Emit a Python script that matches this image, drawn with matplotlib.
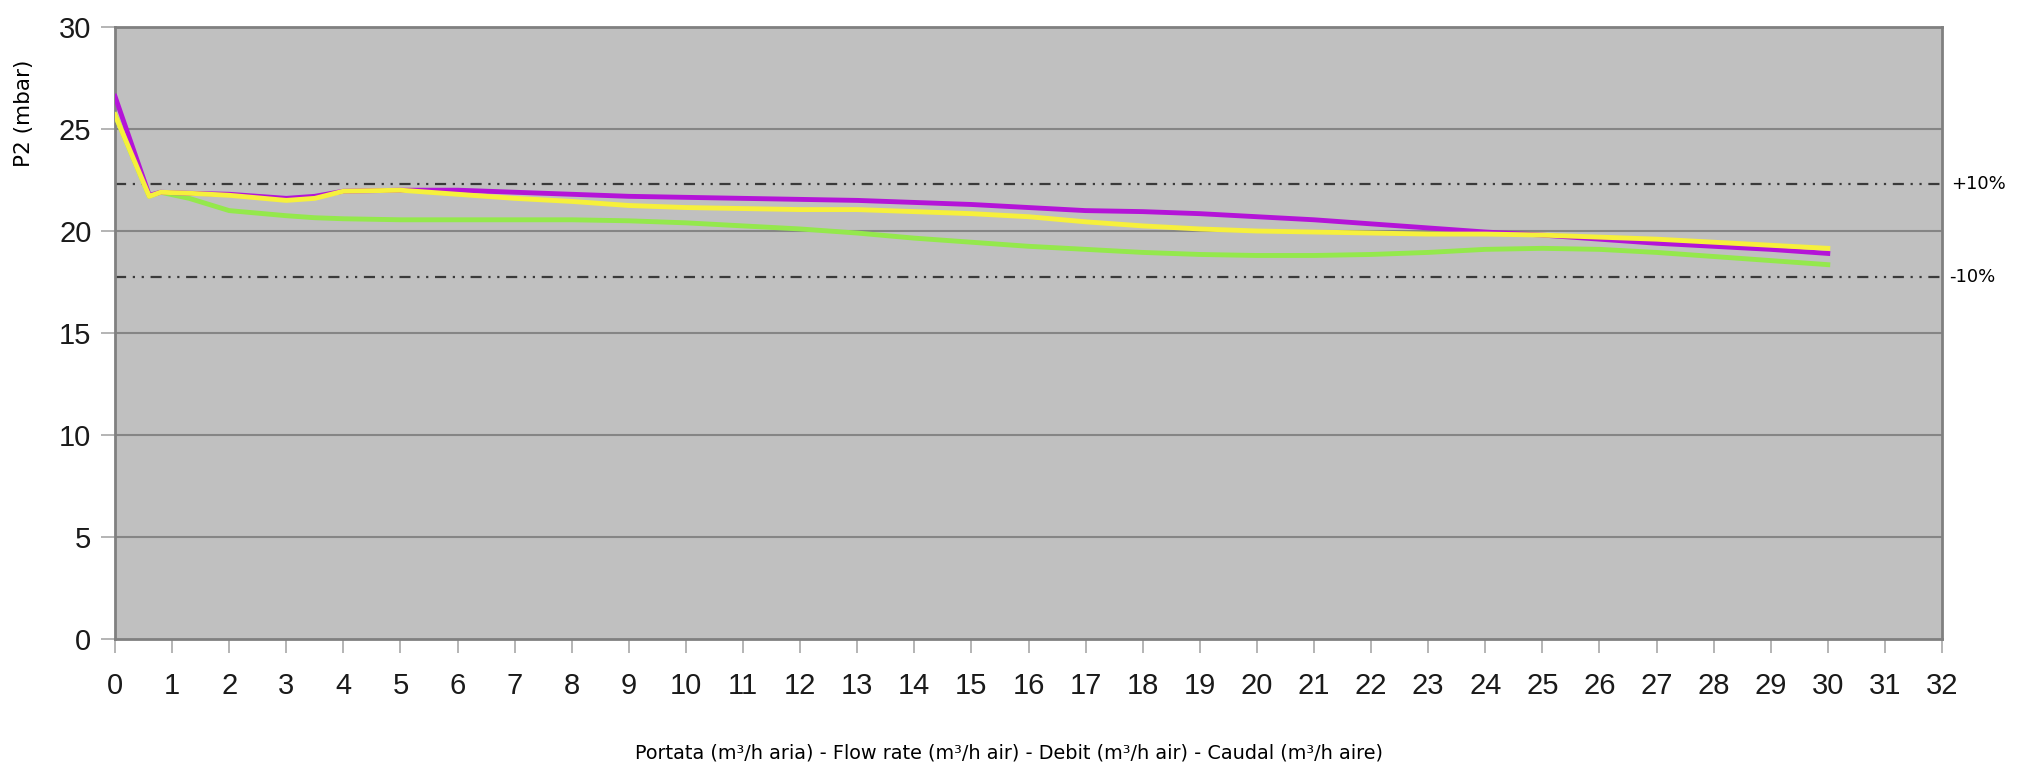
import matplotlib
matplotlib.use("Agg")
import matplotlib.pyplot as plt

# flow rate (m3/h air)
flow = [0, 0.6, 0.8, 1.3, 2, 3, 3.5, 4, 5, 6, 7, 8, 9, 10, 11, 12, 13, 14, 15,
        16, 17, 18, 19, 20, 21, 22, 23, 24, 25, 26, 27, 28, 29, 30]

p2_magenta = [26.6, 21.75, 21.9, 21.85, 21.8, 21.6, 21.7, 21.95, 22.0, 22.0, 21.9,
              21.8, 21.7, 21.65, 21.6, 21.55, 21.5, 21.4, 21.3, 21.15, 21.0, 20.95,
              20.85, 20.7, 20.55, 20.35, 20.15, 19.95, 19.8, 19.6, 19.4, 19.25, 19.1, 18.9]
p2_yellow = [25.7, 21.7, 21.9, 21.85, 21.75, 21.5, 21.6, 21.95, 22.0, 21.8, 21.6,
             21.45, 21.25, 21.15, 21.1, 21.05, 21.05, 20.95, 20.85, 20.7, 20.45, 20.25,
             20.1, 20.0, 19.95, 19.9, 19.85, 19.85, 19.8, 19.7, 19.6, 19.45, 19.3, 19.15]
p2_green = [25.7, 21.7, 21.9, 21.6, 21.0, 20.75, 20.65, 20.6, 20.55, 20.55, 20.55,
            20.55, 20.5, 20.4, 20.25, 20.1, 19.9, 19.65, 19.45, 19.25, 19.1, 18.95,
            18.85, 18.8, 18.8, 18.85, 18.95, 19.1, 19.15, 19.1, 18.95, 18.75, 18.55, 18.35]

band_upper = 22.3
band_lower = 17.75
band_labels = ["+10%", "-10%"]

x_ticks = list(range(0, 33))
y_ticks = [0, 5, 10, 15, 20, 25, 30]

fig = plt.figure(figsize=(20.25, 7.67), dpi=100)
ax = fig.add_axes([115 / 2025, 1 - 639 / 767, (1942 - 115) / 2025, (639 - 27) / 767])
ax.set_facecolor("#c0c0c0")

for y in y_ticks[1:-1]:
    ax.axhline(y, color="#858585", lw=1.5, zorder=1)

dash = (0, (5, 3, 1, 3, 1, 3))
ax.axhline(band_upper, color="#3a3a3a", lw=1.6, ls=dash, zorder=2)
ax.axhline(band_lower, color="#3a3a3a", lw=1.6, ls=dash, zorder=2)

ax.plot(flow, p2_green, color="#94e84c", lw=3.5, zorder=3)
ax.plot(flow, p2_magenta, color="#b414d8", lw=3.5, zorder=4)
ax.plot(flow, p2_yellow, color="#f6f03c", lw=3.5, zorder=5)

ax.set_xlim(0, 32)
ax.set_ylim(0, 30)
ax.set_xticks(x_ticks)
ax.set_yticks(y_ticks)
ax.tick_params(axis="both", labelsize=21, color="#a8a8a8", length=10, width=1.2,
               labelcolor="#1a1a1a")
ax.tick_params(axis="x", pad=14)
ax.tick_params(axis="y", pad=7)
for lab in ax.get_xticklabels() + ax.get_yticklabels():
    lab.set_family("Liberation Sans")

for s in ax.spines.values():
    s.set_color("#808080")
    s.set_linewidth(2)

trans = ax.get_yaxis_transform()
ax.text(1.005, band_upper, band_labels[0], transform=trans, va="center", ha="left",
        fontsize=13, clip_on=False)
ax.text(1.004, band_lower, band_labels[1], transform=trans, va="center", ha="left",
        fontsize=13, clip_on=False)

fig.text(24 / 2025, 1 - 113 / 767, "P2 (mbar)", rotation=90, va="center", ha="center",
         fontsize=15.5)
fig.text(1009 / 2025, 1 - 753 / 767,
         "Portata (m³/h aria) - Flow rate (m³/h air) - Debit (m³/h air) - Caudal (m³/h aire)",
         va="center", ha="center", fontsize=13.9)

fig.savefig("out.png", dpi=100, facecolor="white")
